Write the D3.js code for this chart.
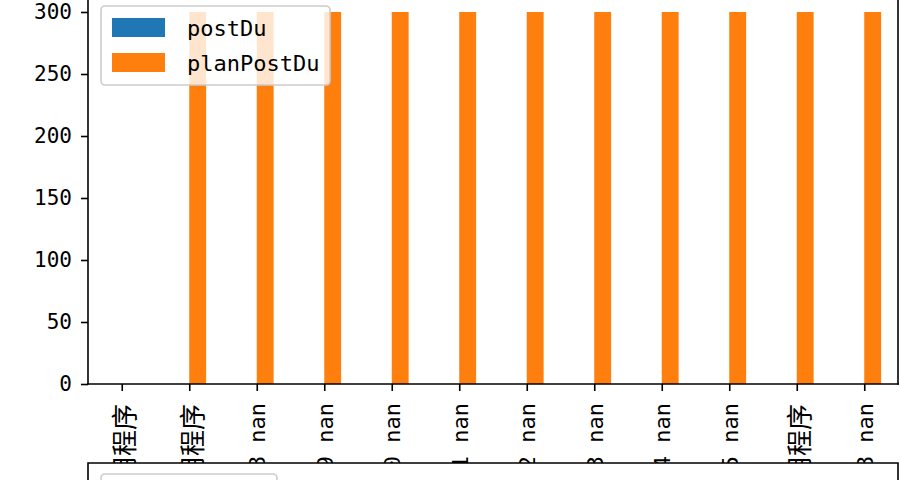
<!DOCTYPE html>
<html>
<head>
<meta charset="utf-8">
<script src="https://cdn.jsdelivr.net/npm/d3@7"></script>
<style>
  body { margin: 0; background: #fff; }
  svg { display: block; }
</style>
</head>
<body>
<svg id="chart" width="900" height="480"></svg>
<script>
// data
const categories = ["应用程序", "应用程序", "18 nan", "19 nan", "20 nan", "21 nan",
                    "22 nan", "23 nan", "24 nan", "25 nan", "应用程序", "28 nan"];
const postDu = [0, 0, 0, 0, 0, 0, 0, 0, 0, 0, 0, 0];
const planPostDu = [0, 300, 300, 300, 300, 300, 300, 300, 300, 300, 300, 300];
const yTicks = [0, 50, 100, 150, 200, 250, 300];
const seriesNames = ["postDu", "planPostDu"];

const colors = ["#1f77b4", "#ff7f0e"];
const mono = "'DejaVu Sans Mono', 'Noto Sans CJK SC', monospace";
const cjk = "'Noto Sans CJK SC', sans-serif";
const isCjk = s => /[\u4e00-\u9fff]/.test(s);

const svg = d3.select("#chart");
const margin = { left: 88, right: 898, top: -6.6, bottom: 384 };

const x = d3.scaleLinear().domain([-0.5, categories.length - 0.5]).range([margin.left, margin.right]);
const y = d3.scaleLinear().domain([0, 315]).range([margin.bottom, margin.top]);
const barW = 0.25;

// bars
const series = [postDu, planPostDu];
series.forEach((vals, s) => {
  svg.append("g").selectAll("rect")
    .data(vals)
    .enter().append("rect")
    .attr("x", (d, i) => x(i - barW + s * barW))
    .attr("width", x(barW) - x(0))
    .attr("y", d => y(d))
    .attr("height", d => y(0) - y(d))
    .attr("fill", colors[s]);
});

// y axis
const yAxis = svg.append("g")
  .attr("transform", `translate(${margin.left},0)`)
  .call(d3.axisLeft(y).tickValues(yTicks).tickSize(7).tickPadding(9).tickSizeOuter(0));
yAxis.select(".domain").remove();
yAxis.selectAll(".tick line").attr("stroke", "#000").attr("stroke-width", 1.6);
yAxis.selectAll(".tick text")
  .attr("fill", "#000")
  .style("font-family", mono)
  .style("font-size", "21px");

// x axis
const xAxis = svg.append("g")
  .attr("transform", `translate(0,${margin.bottom})`)
  .call(d3.axisBottom(x).tickValues(d3.range(categories.length)).tickSize(7).tickFormat(""));
xAxis.select(".domain").remove();
xAxis.selectAll(".tick line").attr("stroke", "#000").attr("stroke-width", 1.6);

// rotated tick labels (their lower part is hidden by the subplot below)
svg.append("g").selectAll("text")
  .data(categories)
  .enter().append("text")
  .attr("transform", (d, i) => `translate(${x(i) + 1},${isCjk(d) ? 404 : 403}) rotate(-90)`)
  .attr("text-anchor", "end")
  .attr("dominant-baseline", "central")
  .style("font-family", d => isCjk(d) ? cjk : mono)
  .style("font-size", d => isCjk(d) ? "26px" : "22px")
  .attr("fill", "#000")
  .text(d => d);

// spines
const spine = (x1, y1, x2, y2) => svg.append("line")
  .attr("x1", x1).attr("y1", y1).attr("x2", x2).attr("y2", y2)
  .attr("stroke", "#000").attr("stroke-width", 1.6).attr("stroke-linecap", "square");
spine(margin.left, margin.top, margin.left, margin.bottom);
spine(margin.left, margin.bottom, margin.right, margin.bottom);
spine(margin.right, margin.top, margin.right, margin.bottom);

// legend
const legend = svg.append("g");
legend.append("rect")
  .attr("x", 101).attr("y", 6).attr("width", 229).attr("height", 79).attr("rx", 4)
  .attr("fill", "#fff").attr("fill-opacity", 0.8)
  .attr("stroke", "#cccccc").attr("stroke-width", 1.6);
seriesNames.forEach((name, i) => {
  legend.append("rect")
    .attr("x", 112).attr("y", 18 + i * 35).attr("width", 53).attr("height", 19)
    .attr("fill", colors[i]);
  legend.append("text")
    .attr("x", 187).attr("y", 28 + i * 35)
    .attr("dominant-baseline", "central")
    .style("font-family", mono).style("font-size", "22px")
    .attr("fill", "#000")
    .text(name);
});

// second subplot peeking in at the bottom
const ax2 = svg.append("g");
ax2.append("rect")
  .attr("x", margin.left).attr("y", 463).attr("width", margin.right - margin.left).attr("height", 40)
  .attr("fill", "#fff");
ax2.append("path")
  .attr("d", `M${margin.left},490 V463 H${margin.right} V490`)
  .attr("fill", "none").attr("stroke", "#000").attr("stroke-width", 1.6);
ax2.append("rect")
  .attr("x", 101).attr("y", 474).attr("width", 176).attr("height", 40).attr("rx", 4)
  .attr("fill", "#fff").attr("stroke", "#cccccc").attr("stroke-width", 1.6);
</script>
</body>
</html>
